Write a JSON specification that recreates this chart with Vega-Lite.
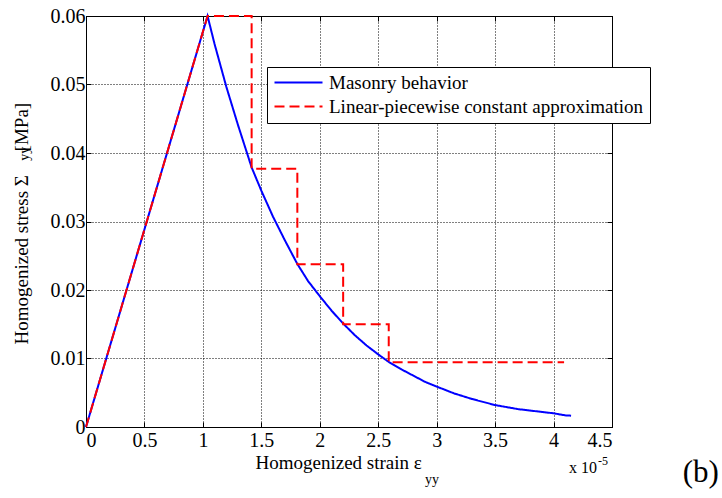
{
  "$schema": "https://vega.github.io/schema/vega-lite/v6.json",
  "width": 526,
  "height": 411,
  "autosize": {"type": "none"},
  "padding": {"left": 86, "top": 16, "right": 110, "bottom": 71},
  "background": "white",
  "config": {
    "font": "Liberation Serif",
    "view": {"stroke": "black", "strokeWidth": 1},
    "axis": {
      "labelFont": "Liberation Serif",
      "titleFont": "Liberation Serif",
      "labelColor": "black",
      "titleColor": "black",
      "domainColor": "black",
      "tickColor": "black",
      "labelFontSize": 20,
      "titleFontSize": 19,
      "titleFontWeight": "normal",
      "gridColor": "black",
      "gridDash": [1, 2],
      "gridOpacity": 1,
      "gridWidth": 1,
      "tickSize": -5,
      "tickWidth": 1,
      "domainWidth": 1
    },
    "legend": {
      "orient": "none",
      "legendX": 181,
      "legendY": 51,
      "padding": 6,
      "strokeColor": "black",
      "fillColor": "white",
      "labelFont": "Liberation Serif",
      "labelFontSize": 19,
      "labelColor": "black",
      "labelLimit": 0,
      "symbolType": "M-1,0H5",
      "symbolSize": 256,
      "symbolStrokeWidth": 2,
      "symbolOffset": 0,
      "labelOffset": 37,
      "rowPadding": 4
    }
  },
  "datasets": {
    "curves": [
      {"i": 0, "s": "Masonry behavior", "x": 0, "y": 0},
      {"i": 1, "s": "Masonry behavior", "x": 1.04, "y": 0.06},
      {"i": 2, "s": "Masonry behavior", "x": 1.1, "y": 0.0559},
      {"i": 3, "s": "Masonry behavior", "x": 1.2, "y": 0.0497},
      {"i": 4, "s": "Masonry behavior", "x": 1.3, "y": 0.0441},
      {"i": 5, "s": "Masonry behavior", "x": 1.417, "y": 0.0379},
      {"i": 6, "s": "Masonry behavior", "x": 1.5, "y": 0.0345},
      {"i": 7, "s": "Masonry behavior", "x": 1.6, "y": 0.0307},
      {"i": 8, "s": "Masonry behavior", "x": 1.7, "y": 0.0273},
      {"i": 9, "s": "Masonry behavior", "x": 1.808, "y": 0.0238},
      {"i": 10, "s": "Masonry behavior", "x": 1.9, "y": 0.0213},
      {"i": 11, "s": "Masonry behavior", "x": 2.0, "y": 0.0191},
      {"i": 12, "s": "Masonry behavior", "x": 2.1, "y": 0.017},
      {"i": 13, "s": "Masonry behavior", "x": 2.2, "y": 0.0151},
      {"i": 14, "s": "Masonry behavior", "x": 2.3, "y": 0.0134},
      {"i": 15, "s": "Masonry behavior", "x": 2.4, "y": 0.0119},
      {"i": 16, "s": "Masonry behavior", "x": 2.5, "y": 0.0106},
      {"i": 17, "s": "Masonry behavior", "x": 2.59, "y": 0.0095},
      {"i": 18, "s": "Masonry behavior", "x": 2.7, "y": 0.0084},
      {"i": 19, "s": "Masonry behavior", "x": 2.8, "y": 0.0075},
      {"i": 20, "s": "Masonry behavior", "x": 2.9, "y": 0.0066},
      {"i": 21, "s": "Masonry behavior", "x": 3.0, "y": 0.0059},
      {"i": 22, "s": "Masonry behavior", "x": 3.15, "y": 0.0049},
      {"i": 23, "s": "Masonry behavior", "x": 3.3, "y": 0.0041},
      {"i": 24, "s": "Masonry behavior", "x": 3.5, "y": 0.0032},
      {"i": 25, "s": "Masonry behavior", "x": 3.7, "y": 0.0026},
      {"i": 26, "s": "Masonry behavior", "x": 3.9, "y": 0.0022},
      {"i": 27, "s": "Masonry behavior", "x": 4.0, "y": 0.002},
      {"i": 28, "s": "Masonry behavior", "x": 4.1, "y": 0.0017},
      {"i": 29, "s": "Masonry behavior", "x": 4.15, "y": 0.00165},
      {"i": 30, "s": "Linear-piecewise constant approximation", "x": 0, "y": 0},
      {"i": 31, "s": "Linear-piecewise constant approximation", "x": 1.04, "y": 0.06},
      {"i": 32, "s": "Linear-piecewise constant approximation", "x": 1.417, "y": 0.06},
      {"i": 33, "s": "Linear-piecewise constant approximation", "x": 1.417, "y": 0.0377},
      {"i": 34, "s": "Linear-piecewise constant approximation", "x": 1.808, "y": 0.0377},
      {"i": 35, "s": "Linear-piecewise constant approximation", "x": 1.808, "y": 0.02375},
      {"i": 36, "s": "Linear-piecewise constant approximation", "x": 2.2, "y": 0.02375},
      {"i": 37, "s": "Linear-piecewise constant approximation", "x": 2.2, "y": 0.015},
      {"i": 38, "s": "Linear-piecewise constant approximation", "x": 2.59, "y": 0.015},
      {"i": 39, "s": "Linear-piecewise constant approximation", "x": 2.59, "y": 0.00944},
      {"i": 40, "s": "Linear-piecewise constant approximation", "x": 4.09, "y": 0.00944}
    ]
  },
  "layer": [
    {
      "data": {"name": "curves"},
      "mark": {"type": "line", "strokeWidth": 2},
      "encoding": {
        "x": {
          "field": "x",
          "type": "quantitative",
          "scale": {"domain": [0, 4.5], "nice": false, "zero": false},
          "axis": {
            "values": [0, 0.5, 1, 1.5, 2, 2.5, 3, 3.5, 4, 4.5],
            "format": "~g",
            "labelPadding": 8,
            "title": "Homogenized strain ε",
            "titleAlign": "left",
            "titleAnchor": "start",
            "titleX": 169,
            "titleY": 41,
            "titleBaseline": "alphabetic",
            "grid": true
          }
        },
        "y": {
          "field": "y",
          "type": "quantitative",
          "scale": {"domain": [0, 0.06], "nice": false, "zero": false},
          "axis": {
            "values": [0, 0.01, 0.02, 0.03, 0.04, 0.05, 0.06],
            "format": "~g",
            "labelPadding": 6,
            "title": "Homogenized stress Σ\u00a0\u00a0\u00a0\u00a0\u00a0[MPa]",
            "titleAngle": 270,
            "titleAlign": "left",
            "titleAnchor": "start",
            "titleX": -59,
            "titleY": 328,
            "titleBaseline": "alphabetic",
            "grid": true
          }
        },
        "color": {
          "field": "s",
          "type": "nominal",
          "scale": {
            "domain": ["Masonry behavior", "Linear-piecewise constant approximation"],
            "range": ["#0000ff", "#ff0000"]
          },
          "legend": {"title": null}
        },
        "strokeDash": {
          "field": "s",
          "type": "nominal",
          "scale": {
            "domain": ["Masonry behavior", "Linear-piecewise constant approximation"],
            "range": [[1, 0], [10, 5]]
          },
          "legend": {"title": null}
        },
        "order": {"field": "i", "type": "quantitative"}
      }
    },
    {
      "data": {"values": [{}]},
      "mark": {"type": "rule", "opacity": 0},
      "encoding": {
        "x": {"datum": 0, "type": "quantitative", "axis": {"orient": "top", "values": [0, 0.5, 1, 1.5, 2, 2.5, 3, 3.5, 4, 4.5], "labels": false, "grid": false, "title": null, "domain": false}},
        "y": {"datum": 0, "type": "quantitative", "axis": {"orient": "right", "values": [0, 0.01, 0.02, 0.03, 0.04, 0.05, 0.06], "labels": false, "grid": false, "title": null, "domain": false}}
      }
    },
    {
      "data": {"values": [{}]},
      "mark": {"type": "text", "clip": false, "font": "Liberation Serif", "fontSize": 14, "align": "center", "baseline": "alphabetic", "color": "black"},
      "encoding": {
        "x": {"datum": 2.96, "type": "quantitative", "axis": null},
        "y": {"datum": -0.0083, "type": "quantitative", "axis": null},
        "text": {"value": "yy"}
      }
    },
    {
      "data": {"values": [{}]},
      "mark": {"type": "text", "clip": false, "font": "Liberation Serif", "fontSize": 14, "align": "center", "baseline": "alphabetic", "angle": 270, "color": "black"},
      "encoding": {
        "x": {"datum": -0.49, "type": "quantitative", "axis": null},
        "y": {"datum": 0.0399, "type": "quantitative", "axis": null},
        "text": {"value": "yy"}
      }
    },
    {
      "data": {"values": [{}]},
      "mark": {"type": "text", "clip": false, "font": "Liberation Serif", "fontSize": 16, "align": "right", "baseline": "alphabetic", "color": "black"},
      "encoding": {
        "x": {"datum": 4.371, "type": "quantitative", "axis": null},
        "y": {"datum": -0.00672, "type": "quantitative", "axis": null},
        "text": {"value": "x 10"}
      }
    },
    {
      "data": {"values": [{}]},
      "mark": {"type": "text", "clip": false, "font": "Liberation Serif", "fontSize": 12, "align": "left", "baseline": "alphabetic", "color": "black"},
      "encoding": {
        "x": {"datum": 4.38, "type": "quantitative", "axis": null},
        "y": {"datum": -0.00555, "type": "quantitative", "axis": null},
        "text": {"value": "-5"}
      }
    },
    {
      "data": {"values": [{}]},
      "mark": {"type": "text", "clip": false, "font": "Liberation Serif", "fontSize": 31, "align": "left", "baseline": "alphabetic", "color": "black"},
      "encoding": {
        "x": {"datum": 5.105, "type": "quantitative", "axis": null},
        "y": {"datum": -0.008, "type": "quantitative", "axis": null},
        "text": {"value": "(b)"}
      }
    }
  ],
  "resolve": {"axis": {"x": "independent", "y": "independent"}}
}
